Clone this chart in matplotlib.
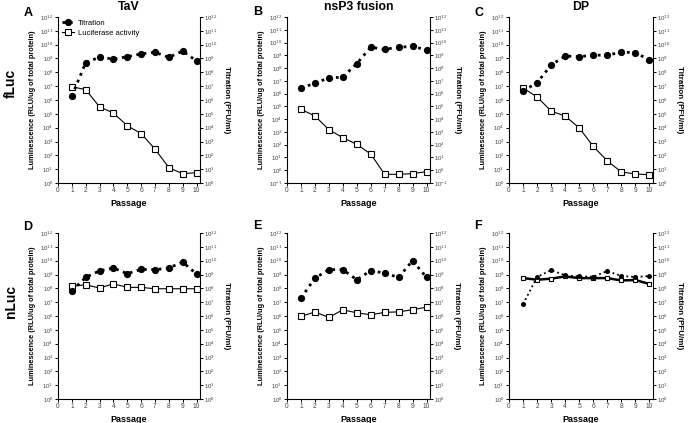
import numpy as np
import matplotlib
matplotlib.use('Agg')
import matplotlib.pyplot as plt
from matplotlib.ticker import FixedLocator, NullLocator

plt.rcParams['font.family'] = ['Liberation Sans', 'DejaVu Sans']
plt.rcParams['mathtext.fontset'] = 'custom'
plt.rcParams['mathtext.rm'] = 'Liberation Sans'
plt.rcParams['mathtext.default'] = 'regular'

passage = [1, 2, 3, 4, 5, 6, 7, 8, 9, 10]

# log10 values
tav_titer = [6.29, 8.70, 9.10, 8.96, 9.13, 9.33, 9.45, 9.08, 9.54, 8.82]
tav_luc = [6.96, 6.75, 5.50, 5.06, 4.14, 3.57, 2.46, 1.11, 0.67, 0.75]
nsp3_titer = [6.41, 6.83, 7.22, 7.30, 8.35, 9.63, 9.47, 9.63, 9.70, 9.42]
nsp3_luc = [4.77, 4.25, 3.18, 2.55, 2.03, 1.27, -0.32, -0.32, -0.27, -0.11]
dp_titer = [6.65, 7.25, 8.53, 9.18, 9.13, 9.25, 9.23, 9.47, 9.42, 8.89]
dp_luc = [6.87, 6.22, 5.20, 4.84, 3.98, 2.65, 1.59, 0.80, 0.65, 0.60]
ntav_titer = [7.83, 8.79, 9.27, 9.47, 9.06, 9.37, 9.35, 9.47, 9.90, 9.03]
ntav_luc = [8.14, 8.26, 8.02, 8.33, 8.07, 8.07, 7.97, 7.97, 7.97, 7.97]
nnsp3_titer = [7.29, 8.74, 9.35, 9.35, 8.62, 9.28, 9.10, 8.79, 10.0, 8.79]
nnsp3_luc = [5.97, 6.29, 5.90, 6.45, 6.23, 6.09, 6.26, 6.30, 6.45, 6.64]
ndp_titer = [6.86, 8.82, 9.32, 8.94, 8.86, 8.84, 9.25, 8.89, 8.82, 8.89]
ndp_luc = [8.74, 8.62, 8.70, 8.86, 8.74, 8.74, 8.74, 8.57, 8.60, 8.31]

panels = [
    ('A', 'TaV', tav_titer, tav_luc, 0),
    ('B', 'nsP3 fusion', nsp3_titer, nsp3_luc, -1),
    ('C', 'DP', dp_titer, dp_luc, 0),
    ('D', '', ntav_titer, ntav_luc, 0),
    ('E', '', nnsp3_titer, nnsp3_luc, 0),
    ('F', '', ndp_titer, ndp_luc, 0),
]
letter_pos = [(28, 13), (258, 12), (479, 13), (28, 227), (257, 226), (478, 226)]

W, H = 691, 423
fig = plt.figure(figsize=(6.91, 4.23), dpi=100)

lefts = [58, 287, 509]
widths = [142, 143, 144]
tops = [17, 233]
ax_h = 166
tick_col = '#444444'


def px(x, y):
    return x / W, 1 - y / H


for i, (letter, title, titer, luc, ymin) in enumerate(panels):
    r, c = divmod(i, 3)
    rect = [lefts[c] / W, 1 - (tops[r] + ax_h) / H, widths[c] / W, ax_h / H]
    ax = fig.add_axes(rect)
    tit = 10.0 ** np.array(titer)
    lu = 10.0 ** np.array(luc)
    if letter == 'F':
        ax.plot(passage, tit, ':', color='black', lw=1.3, marker='o', ms=2.6,
                label='Titration', zorder=3)
        ax.plot(passage, lu, '-', color='black', lw=1.8, marker='s', ms=3.4,
                mfc='white', mew=0.8, label='Luciferase activity', zorder=2)
    else:
        ax.plot(passage, tit, ':', color='black', lw=2.0, marker='o', ms=4.2,
                label='Titration', zorder=3)
        ax.plot(passage, lu, '-', color='black', lw=0.8, marker='s', ms=4.2,
                mfc='white', mew=0.8, label='Luciferase activity', zorder=2)
    ax.set_yscale('log')
    ax.set_ylim(10.0 ** ymin, 1e12)
    ax.set_xlim(0, 10.25)
    ax.set_xticks(range(0, 11))
    exps = list(range(ymin, 13))
    ax.yaxis.set_major_locator(FixedLocator([10.0 ** e for e in exps]))
    ax.yaxis.set_minor_locator(NullLocator())
    ax.set_yticklabels(['$10^{%d}$' % e for e in exps])
    ax.tick_params(labelsize=4.4, colors='black', labelcolor=tick_col,
                   length=2, width=0.7, pad=1.2)
    ax.tick_params(axis='x', labelsize=4.8)
    for s in ['top', 'right']:
        ax.spines[s].set_visible(False)
    for s in ['left', 'bottom']:
        ax.spines[s].set_linewidth(0.8)
    ax.set_xlabel('Passage', fontsize=6.5, fontweight='bold', labelpad=3)
    ax.set_ylabel('Luminescence (RLU/ug of total protein)', fontsize=5.3,
                  fontweight='bold', labelpad=3)

    ax2 = ax.twinx()
    ax2.set_yscale('log')
    ax2.set_ylim(10.0 ** ymin, 1e12)
    ax2.yaxis.set_major_locator(FixedLocator([10.0 ** e for e in exps]))
    ax2.yaxis.set_minor_locator(NullLocator())
    ax2.set_yticklabels(['$10^{%d}$' % e for e in exps])
    ax2.tick_params(labelsize=4.4, labelcolor=tick_col, length=2,
                    width=0.7, pad=1.2)
    for s in ['top', 'left', 'bottom']:
        ax2.spines[s].set_visible(False)
    ax2.spines['right'].set_linewidth(0.8)
    ax2.set_ylabel('Titration (PFU/ml)', fontsize=5.8, fontweight='bold',
                   rotation=270, labelpad=9)

    if title:
        ax.set_title(title, fontsize=8.8, fontweight='bold', pad=5)
    lx, ly = letter_pos[i]
    fig.text(*px(lx, ly), letter, fontsize=9, fontweight='bold',
             ha='center', va='center')
    if letter == 'A':
        ax.legend(loc='upper left', frameon=False, fontsize=5.5,
                  handlelength=1.6, handletextpad=0.5, borderaxespad=0.1,
                  labelspacing=0.35, bbox_to_anchor=(0.0, 1.01))

fig.text(*px(11, 83), 'fLuc', rotation=90, fontsize=10,
         fontweight='bold', ha='center', va='center')
fig.text(*px(11, 301), 'nLuc', rotation=90, fontsize=10,
         fontweight='bold', ha='center', va='center')

fig.savefig('out.png', dpi=100)
